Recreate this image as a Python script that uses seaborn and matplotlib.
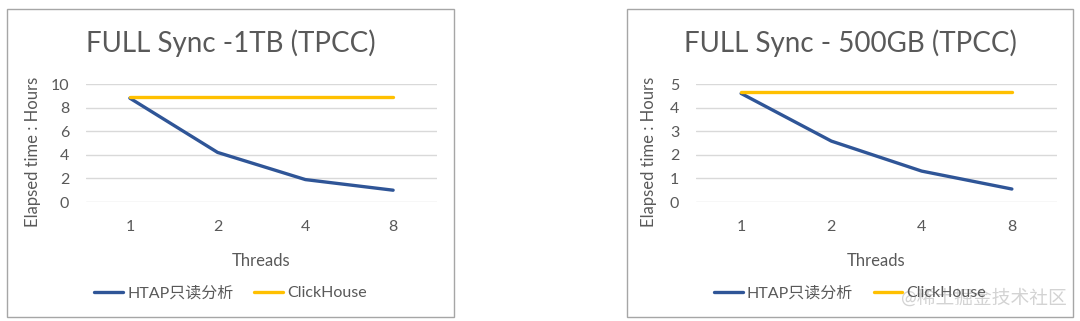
import matplotlib
matplotlib.use("Agg")
import matplotlib.pyplot as plt
from matplotlib.patches import Rectangle
import seaborn as sns
import pandas as pd

threads = ["1", "2", "4", "8"]
htap_1tb = [8.8, 4.2, 1.9, 1.0]
ch_1tb = [8.9, 8.9, 8.9, 8.9]
htap_500gb = [4.6, 2.58, 1.31, 0.55]
ch_500gb = [4.67, 4.67, 4.67, 4.67]
series_names = ["HTAP只读分析", "ClickHouse"]
titles = ["FULL Sync -1TB (TPCC)", "FULL Sync - 500GB (TPCC)"]
y_ticks_1tb = [0, 2, 4, 6, 8, 10]
y_ticks_500gb = [0, 1, 2, 3, 4, 5]

sns.set_theme(style="white")
plt.rcParams["font.family"] = ["Lato", "Noto Sans CJK SC", "DejaVu Sans"]

W, H = 1080, 321
fig = plt.figure(figsize=(W / 100, H / 100), dpi=100)

palette = {series_names[0]: "#2F5597", series_names[1]: "#FFC000"}
txt = "#595959"

panels = [
    dict(htap=htap_1tb, ch=ch_1tb, title=titles[0], yt=y_ticks_1tb,
         box=(7, 9, 454, 317), plot=(86, 437), ylab_x=33),
    dict(htap=htap_500gb, ch=ch_500gb, title=titles[1], yt=y_ticks_500gb,
         box=(627, 9, 1073, 317), plot=(696, 1057), ylab_x=649),
]

for p in panels:
    x0, y0, x1, y1 = p["box"]
    fig.patches.append(Rectangle((x0 / W, 1 - y1 / H), (x1 - x0) / W, (y1 - y0) / H,
                                 transform=fig.transFigure, fill=False,
                                 edgecolor="#A6A6A6", linewidth=1.0))
    px0, px1 = p["plot"]
    top, bot = 84, 202
    ax = fig.add_axes([px0 / W, 1 - bot / H, (px1 - px0) / W, (bot - top) / H])
    df = pd.DataFrame({
        "Threads": threads * 2,
        "value": p["htap"] + p["ch"],
        "series": [series_names[0]] * 4 + [series_names[1]] * 4,
    })
    sns.lineplot(data=df, x="Threads", y="value", hue="series", palette=palette,
                 linewidth=2.4, ax=ax, legend=False, sort=False)
    ax.set_xlim(-0.5, 3.5)
    ax.set_ylim(p["yt"][0], p["yt"][-1])
    ax.set_yticks(p["yt"])
    ax.grid(axis="y", color="#D9D9D9", linewidth=1.0)
    ax.grid(axis="x", visible=False)
    for s in ax.spines.values():
        s.set_visible(False)
    ax.tick_params(axis="y", length=0, pad=12, labelsize=11.5, labelcolor=txt)
    ax.tick_params(axis="x", length=0, pad=13, labelsize=11.5, labelcolor=txt)
    ax.set_xlabel("Threads", fontsize=12, color=txt)
    ax.xaxis.label.set_va("center")
    ax.xaxis.set_label_coords(0.5, -(261 - bot) / (bot - top))
    ax.set_ylabel("Elapsed time : Hours", fontsize=12, color=txt)
    ax.yaxis.label.set_va("center")
    ax.yaxis.set_label_coords((p["ylab_x"] - px0) / (px1 - px0), (bot - 152) / (bot - top))
    ax.set_facecolor("none")
    cx = (x0 + x1) / 2 / W
    fig.text(cx, 1 - 43 / H, p["title"], ha="center", va="center", fontsize=20, color=txt)
    handles = [plt.Line2D([], [], color=palette[n], linewidth=2.4) for n in series_names]
    fig.legend(handles, series_names, loc="center", bbox_to_anchor=(cx, 1 - 293 / H),
               ncol=2, frameon=False, fontsize=11.5, labelcolor=txt,
               handlelength=1.8, handletextpad=0.25, columnspacing=1.3)

fig.text(1067 / W, 1 - 297 / H, "@稀土掘金技术社区", ha="right", va="center",
         fontsize=13.5, color="#C8C8C8", alpha=0.8)

fig.savefig("out.png", dpi=100, facecolor="white")
